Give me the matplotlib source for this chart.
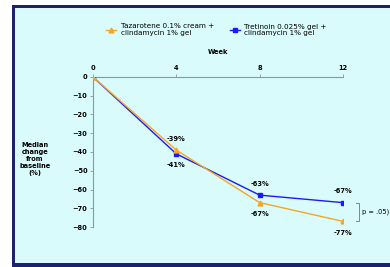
import matplotlib
matplotlib.use("Agg")
import matplotlib.pyplot as plt
from matplotlib.patches import Rectangle

weeks = [0, 4, 8, 12]
tazarotene = [0, -39, -67, -77]
tretinoin = [0, -41, -63, -67]
taz_labels = ["", "-39%", "-67%", "-77%"]
tre_labels = ["", "-41%", "-63%", "-67%"]
taz_name = "Tazarotene 0.1% cream +\nclindamycin 1% gel"
tre_name = "Tretinoin 0.025% gel +\nclindamycin 1% gel"
yticks = [0, -10, -20, -30, -40, -50, -60, -70, -80]

W, H = 390, 267
fig = plt.figure(figsize=(W/100, H/100), dpi=100)
fig.patch.set_facecolor("white")
bg = "#d9fbfb"
navy = "#1c2170"
# frame
fig.patches.append(Rectangle((12/W, 0), 1, 1 - 5/H, transform=fig.transFigure,
                             facecolor=navy, edgecolor="none", zorder=-10))
fig.patches.append(Rectangle((15/W, 4/H), 1, 1 - 12/H, transform=fig.transFigure,
                             facecolor=bg, edgecolor="none", zorder=-9))

ax = fig.add_axes([93/W, 1 - 227/H, 250/W, 150/H])
ax.set_facecolor("none")
orange = "#f5a623"
blue = "#1a1aff"
ax.plot(weeks, tretinoin, color=blue, marker="s", markersize=3, lw=1.0, label=tre_name, zorder=3)
ax.plot(weeks, tazarotene, color=orange, marker="^", markersize=3.5, lw=1.0, label=taz_name, zorder=4)

ax.set_xlim(0, 12)
ax.set_ylim(-80, 0)
ax.set_xticks(weeks)
ax.set_yticks(yticks)
ax.xaxis.tick_top()
ax.xaxis.set_label_position("top")
ax.set_xlabel("Week", fontsize=4.8, fontweight="bold", labelpad=8)
for s in ["right", "bottom"]:
    ax.spines[s].set_visible(False)
for s in ["left", "top"]:
    ax.spines[s].set_color("#8a9a9a")
    ax.spines[s].set_linewidth(0.8)
ax.tick_params(axis="both", labelsize=4.8, length=2, width=0.6, color="#8a9a9a", pad=2)
for lab in ax.get_xticklabels() + ax.get_yticklabels():
    lab.set_fontweight("bold")

ax.text(-0.232, 0.45, "Median\nchange\nfrom\nbaseline\n(%)", transform=ax.transAxes,
        ha="center", va="center", fontsize=4.8, fontweight="bold", linespacing=1.2)

for i in range(1, 4):
    hi = max(tazarotene[i], tretinoin[i])
    lo = min(tazarotene[i], tretinoin[i])
    top_lab = taz_labels[i] if tazarotene[i] >= tretinoin[i] else tre_labels[i]
    bot_lab = tre_labels[i] if tazarotene[i] >= tretinoin[i] else taz_labels[i]
    ax.annotate(top_lab, (weeks[i], hi), xytext=(0, 6), textcoords="offset points",
                ha="center", va="bottom", fontsize=4.8, fontweight="bold")
    ax.annotate(bot_lab, (weeks[i], lo), xytext=(0, -6), textcoords="offset points",
                ha="center", va="top", fontsize=4.8, fontweight="bold")

# bracket for p-value
ax.plot([12.6, 12.75, 12.75, 12.6], [tretinoin[3], tretinoin[3], tazarotene[3], tazarotene[3]],
        color="#7a8a8a", lw=0.7, clip_on=False)
ax.text(12.9, (tretinoin[3] + tazarotene[3]) / 2, "p = .05)", fontsize=4.8,
        va="center", ha="left", clip_on=False)

leg = fig.legend(handles=[ax.lines[1], ax.lines[0]], loc="center", bbox_to_anchor=(0.555, 1 - 30/H),
                 ncol=2, fontsize=5.2, frameon=False, handlelength=1.4, columnspacing=2.2,
                 handletextpad=0.6)

fig.savefig("out.png", dpi=100)
